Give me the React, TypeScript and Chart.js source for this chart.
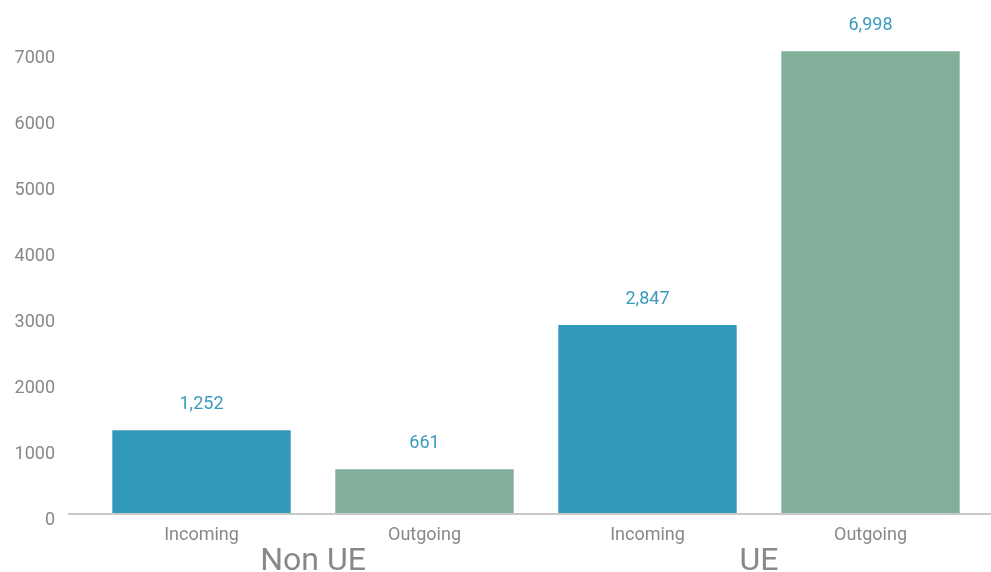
import React, { useEffect, useRef } from "react";
import { Chart, registerables } from "chart.js";

Chart.register(...registerables);

const categories = ["Incoming", "Outgoing", "Incoming", "Outgoing"];
const groups = ["Non UE", "UE"];
const values = [1252, 661, 2847, 6998];
const barColors = ["#3399BB", "#82AF9A", "#3399BB", "#82AF9A"];
const yTicks = [0, 1000, 2000, 3000, 4000, 5000, 6000, 7000];

const FONT = "Roboto";

const decorPlugin = {
  id: "decor",
  afterDatasetsDraw(chart: any) {
    const { ctx, chartArea } = chart;
    const meta = chart.getDatasetMeta(0);
    ctx.save();
    // axis line
    ctx.strokeStyle = "#c8c8c8";
    ctx.lineWidth = 2;
    ctx.beginPath();
    ctx.moveTo(chartArea.left - 22, chartArea.bottom + 1);
    ctx.lineTo(chart.width, chartArea.bottom + 1);
    ctx.stroke();
    // data labels
    ctx.fillStyle = "#3A9BBF";
    ctx.font = `18px ${FONT}`;
    ctx.textAlign = "center";
    ctx.textBaseline = "alphabetic";
    meta.data.forEach((bar: any, i: number) => {
      ctx.fillText(values[i].toLocaleString("en-US"), bar.x, bar.y - 21);
    });
    // group labels
    ctx.fillStyle = "#888888";
    ctx.font = `32px ${FONT}`;
    groups.forEach((g, gi) => {
      const a = meta.data[gi * 2];
      const b = meta.data[gi * 2 + 1];
      ctx.fillText(g, (a.x + b.x) / 2, chartArea.bottom + 57);
    });
    ctx.restore();
  },
};

export default function App() {
  const ref = useRef<HTMLCanvasElement>(null);
  useEffect(() => {
    const chart = new Chart(ref.current!, {
      type: "bar",
      data: {
        labels: categories,
        datasets: [
          {
            data: values,
            backgroundColor: barColors,
            barPercentage: 0.8,
            categoryPercentage: 1,
          },
        ],
      },
      options: {
        animation: false,
        responsive: false,
        maintainAspectRatio: false,
        layout: { padding: { top: 51, right: 9, left: 0, bottom: 0 } },
        plugins: { legend: { display: false }, tooltip: { enabled: false } },
        scales: {
          x: {
            grid: { display: false, drawTicks: false },
            border: { display: false },
            ticks: { color: "#888888", font: { family: FONT, size: 18 }, padding: 12 },
            afterFit: (s: any) => {
              s.height = 59;
            },
          },
          y: {
            min: 0,
            max: 7000,
            grid: { display: false, drawTicks: false },
            border: { display: false },
            afterBuildTicks: (s: any) => {
              s.ticks = yTicks.map((v) => ({ value: v }));
            },
            ticks: {
              color: "#888888",
              font: { family: FONT, size: 18 },
              padding: 35,
              labelOffset: 7,
              callback: (v: any) => String(v),
            },
            afterFit: (s: any) => {
              s.width = 90;
            },
          },
        },
      },
      plugins: [decorPlugin],
    });
    return () => chart.destroy();
  }, []);
  return (
    <div style={{ position: "fixed", left: 0, top: 0, width: 991, height: 572, background: "#fff" }}>
      <canvas ref={ref} width={991} height={572} style={{ width: 991, height: 572, display: "block" }} />
    </div>
  );
}
